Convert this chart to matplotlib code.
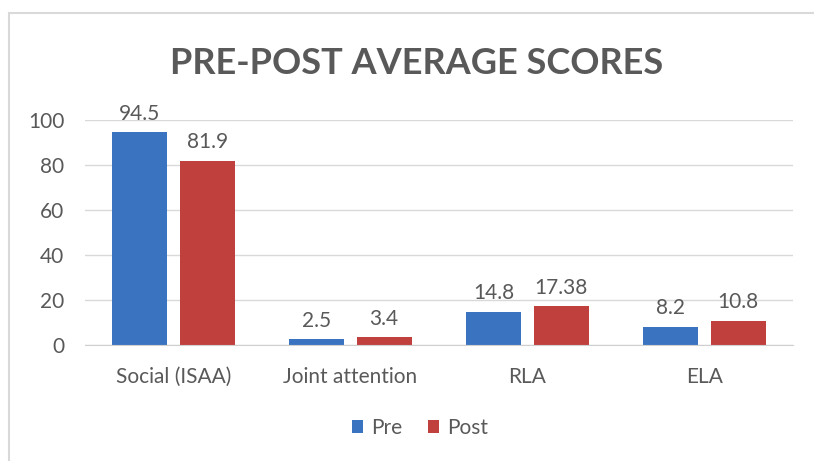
import numpy as np
import matplotlib.pyplot as plt
from matplotlib.patches import Rectangle

categories = ['Social (ISAA)', 'Joint attention', 'RLA', 'ELA']
pre = [94.5, 2.5, 14.8, 8.2]
post = [81.9, 3.4, 17.38, 10.8]
pre_labels = ['94.5', '2.5', '14.8', '8.2']
post_labels = ['81.9', '3.4', '17.38', '10.8']
yticks = [0, 20, 40, 60, 80, 100]

plt.rcParams['font.family'] = ['Lato', 'DejaVu Sans']
txt = '#595959'

fig = plt.figure(figsize=(8.14, 4.61), dpi=100)
ax = fig.add_axes([85/814, 1 - 345/461, 708/814, 225/461])

# chart frame (top and left edges visible in the reference)
fig.add_artist(Rectangle((9/814, -0.1), 1.2, 1 - 13/461 + 0.1, transform=fig.transFigure,
                         fill=False, edgecolor='#d9d9d9', linewidth=1.5))

x = np.arange(len(categories))
w = 0.31
off = 0.19
b1 = ax.bar(x - off, pre, w, color='#3a74c0', label='Pre', zorder=3)
b2 = ax.bar(x + off, post, w, color='#c0403d', label='Post', zorder=3)

for rect, lab in zip(b1, pre_labels):
    ax.annotate(lab, (rect.get_x() + rect.get_width() / 2, rect.get_height()),
                xytext=(0, 6), textcoords='offset points', ha='center', va='bottom',
                fontsize=15, color=txt)
for rect, lab in zip(b2, post_labels):
    ax.annotate(lab, (rect.get_x() + rect.get_width() / 2, rect.get_height()),
                xytext=(0, 6), textcoords='offset points', ha='center', va='bottom',
                fontsize=15, color=txt)

ax.set_xlim(-0.5, 3.5)
ax.set_ylim(0, 100)
ax.set_yticks(yticks)
ax.set_xticks(x)
ax.set_xticklabels(categories)
ax.tick_params(axis='both', length=0, labelsize=15, labelcolor=txt)
ax.tick_params(axis='y', pad=15)
ax.tick_params(axis='x', pad=16)
ax.grid(axis='y', color='#d9d9d9', linewidth=1, zorder=0)
for s in ['top', 'right', 'left']:
    ax.spines[s].set_visible(False)
ax.spines['bottom'].set_color('#d0d0d0')
ax.spines['bottom'].set_zorder(4)

fig.text(417/814, 1 - 63/461, 'PRE-POST AVERAGE SCORES', ha='center', va='center',
         fontsize=26, fontweight='bold', color=txt)

fig.legend(handles=[b1, b2], loc='center', bbox_to_anchor=(420/814, 1 - 428/461), ncol=2,
           frameon=False, fontsize=15, labelcolor=txt, handlelength=0.55, handleheight=0.55,
           handletextpad=0.4, columnspacing=1.2)

fig.savefig('out.png', dpi=100, facecolor='white')
